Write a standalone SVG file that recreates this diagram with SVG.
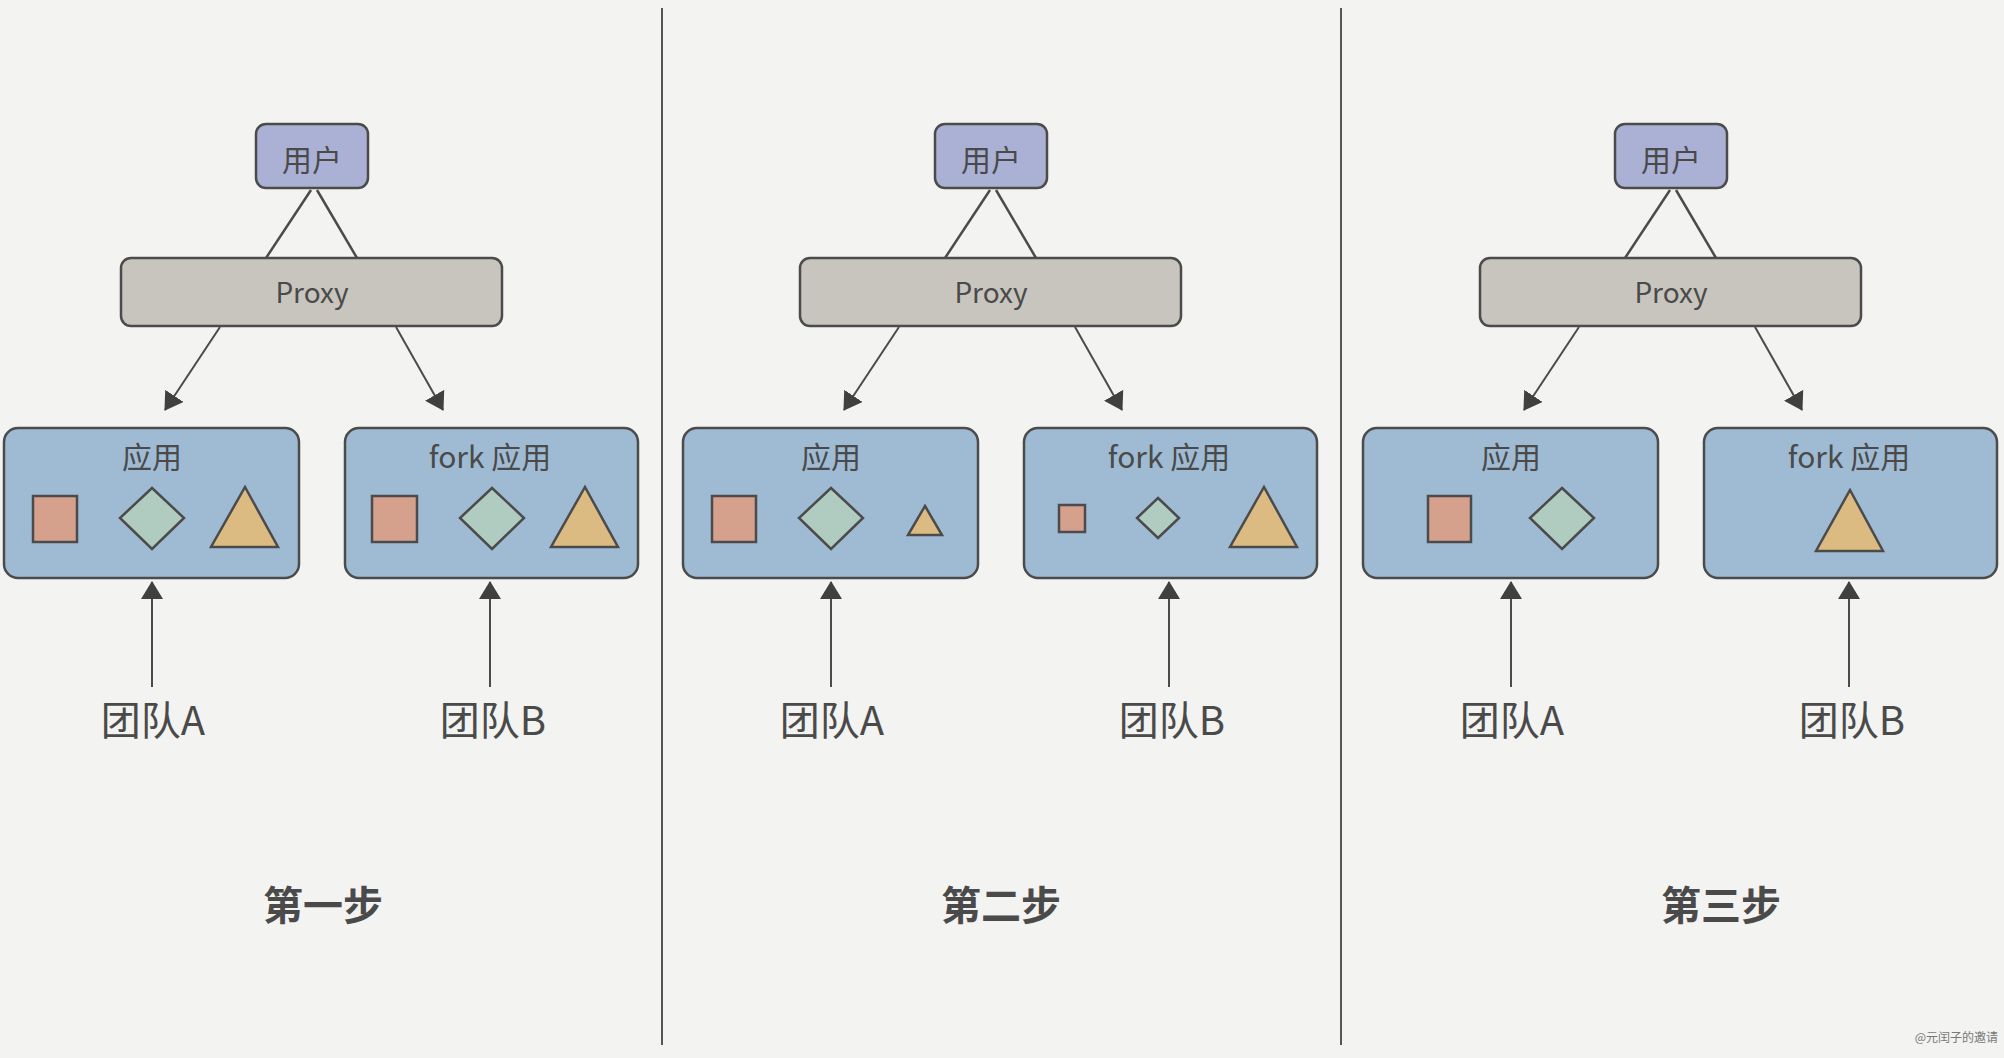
<svg xmlns="http://www.w3.org/2000/svg" width="2004" height="1058" viewBox="0 0 2004 1058">
<style>
.box{stroke:#4b4b4b;stroke-width:2.5}
.user{fill:#aab1d4}
.proxy{fill:#c8c5bf}
.app{fill:#9fbbd3}
.sq{fill:#d5a18c;stroke:#4b4b4b;stroke-width:2.5}
.dm{fill:#b0cbc0;stroke:#4b4b4b;stroke-width:2.5}
.tr{fill:#dcbb82;stroke:#4b4b4b;stroke-width:2.5}
.t{font-family:"Noto Sans CJK SC","Noto Sans",sans-serif;fill:#4a4a4a;text-anchor:middle}
.lbl{font-size:30px}
.team{font-size:40px}
.step{font-size:40px;font-weight:bold}
.ln{stroke:#4b4b4b;stroke-width:2.5;fill:none}
.ar{stroke:#4b4b4b;stroke-width:2;fill:none;marker-end:url(#ah)}
.div{stroke:#555;stroke-width:2}
</style>
<defs>
<marker id="ah" viewBox="0 0 18 22" refX="17" refY="11" markerWidth="18" markerHeight="22" markerUnits="userSpaceOnUse" orient="auto">
<path d="M0,0 L18,11 L0,22 z" fill="#404040"/>
</marker>
</defs>
<rect width="2004" height="1058" fill="#f3f3f1"/>
<g id="dividers">
<line class="div" x1="662" y1="8" x2="662" y2="1045"/>
<line class="div" x1="1341" y1="8" x2="1341" y2="1045"/>
</g>

<g id="panel1">
<g id="connectors1">
<line class="ln" x1="311" y1="190" x2="266" y2="258"/>
<line class="ln" x1="317" y1="190" x2="357" y2="258"/>
<line class="ar" x1="220" y1="327" x2="165" y2="410"/>
<line class="ar" x1="396" y1="327" x2="443" y2="410"/>
<line class="ar" x1="152" y1="687" x2="152" y2="582"/>
<line class="ar" x1="490" y1="687" x2="490" y2="582"/>
</g>
<g id="user1"><rect class="box user" x="256" y="124" width="112" height="64" rx="10"/><text class="t lbl" x="312" y="171">用户</text></g>
<g id="proxy1"><rect class="box proxy" x="121" y="258" width="381" height="68" rx="10"/><text class="t lbl" x="312" y="303" style="font-size:28px">Proxy</text></g>
<g id="appA1"><rect class="box app" x="4" y="428" width="295" height="150" rx="14"/><text class="t lbl" x="152" y="468">应用</text>
<rect class="sq" x="33" y="496" width="44" height="46"/>
<polygon class="dm" points="152,488 184,518 152,549 120,518"/>
<polygon class="tr" points="245,487 278,547 211,547"/></g>
<g id="appB1"><rect class="box app" x="345" y="428" width="293" height="150" rx="14"/><text class="t lbl" x="490" y="468">fork 应用</text>
<rect class="sq" x="372" y="496" width="45" height="46"/>
<polygon class="dm" points="492,488 524,518 492,549 460,518"/>
<polygon class="tr" points="585,487 618,547 551,547"/></g>
<g id="teamA1"><text class="t team" x="153" y="735">团队A</text></g>
<g id="teamB1"><text class="t team" x="493" y="735">团队B</text></g>
<text class="t step" x="323" y="920">第一步</text>
</g>

<g id="panel2" transform="translate(679,0)">
<g id="connectors2">
<line class="ln" x1="311" y1="190" x2="266" y2="258"/>
<line class="ln" x1="317" y1="190" x2="357" y2="258"/>
<line class="ar" x1="220" y1="327" x2="165" y2="410"/>
<line class="ar" x1="396" y1="327" x2="443" y2="410"/>
<line class="ar" x1="152" y1="687" x2="152" y2="582"/>
<line class="ar" x1="490" y1="687" x2="490" y2="582"/>
</g>
<g id="user2"><rect class="box user" x="256" y="124" width="112" height="64" rx="10"/><text class="t lbl" x="312" y="171">用户</text></g>
<g id="proxy2"><rect class="box proxy" x="121" y="258" width="381" height="68" rx="10"/><text class="t lbl" x="312" y="303" style="font-size:28px">Proxy</text></g>
<g id="appA2"><rect class="box app" x="4" y="428" width="295" height="150" rx="14"/><text class="t lbl" x="152" y="468">应用</text>
<rect class="sq" x="33" y="496" width="44" height="46"/>
<polygon class="dm" points="152,488 184,518 152,549 120,518"/>
<polygon class="tr" points="246,506 263,535 229,535"/></g>
<g id="appB2"><rect class="box app" x="345" y="428" width="293" height="150" rx="14"/><text class="t lbl" x="490" y="468">fork 应用</text>
<rect class="sq" x="380" y="505" width="26" height="27"/>
<polygon class="dm" points="479,498 500,518 479,538 458,518"/>
<polygon class="tr" points="585,487 618,547 551,547"/></g>
<g id="teamA2"><text class="t team" x="153" y="735">团队A</text></g>
<g id="teamB2"><text class="t team" x="493" y="735">团队B</text></g>
<text class="t step" x="322" y="920">第二步</text>
</g>

<g id="panel3" transform="translate(1359,0)">
<g id="connectors3">
<line class="ln" x1="311" y1="190" x2="266" y2="258"/>
<line class="ln" x1="317" y1="190" x2="357" y2="258"/>
<line class="ar" x1="220" y1="327" x2="165" y2="410"/>
<line class="ar" x1="396" y1="327" x2="443" y2="410"/>
<line class="ar" x1="152" y1="687" x2="152" y2="582"/>
<line class="ar" x1="490" y1="687" x2="490" y2="582"/>
</g>
<g id="user3"><rect class="box user" x="256" y="124" width="112" height="64" rx="10"/><text class="t lbl" x="312" y="171">用户</text></g>
<g id="proxy3"><rect class="box proxy" x="121" y="258" width="381" height="68" rx="10"/><text class="t lbl" x="312" y="303" style="font-size:28px">Proxy</text></g>
<g id="appA3"><rect class="box app" x="4" y="428" width="295" height="150" rx="14"/><text class="t lbl" x="152" y="468">应用</text>
<rect class="sq" x="69" y="496" width="43" height="46"/>
<polygon class="dm" points="203,488 235,518 203,549 171,518"/></g>
<g id="appB3"><rect class="box app" x="345" y="428" width="293" height="150" rx="14"/><text class="t lbl" x="490" y="468">fork 应用</text>
<polygon class="tr" points="491,490 524,551 457,551"/></g>
<g id="teamA3"><text class="t team" x="153" y="735">团队A</text></g>
<g id="teamB3"><text class="t team" x="493" y="735">团队B</text></g>
<text class="t step" x="362" y="920">第三步</text>
</g>

<text x="1998" y="1042" style="font-family:'Noto Sans CJK SC',sans-serif;font-size:12px;fill:#777;text-anchor:end">@元闰子的邀请</text>
</svg>
